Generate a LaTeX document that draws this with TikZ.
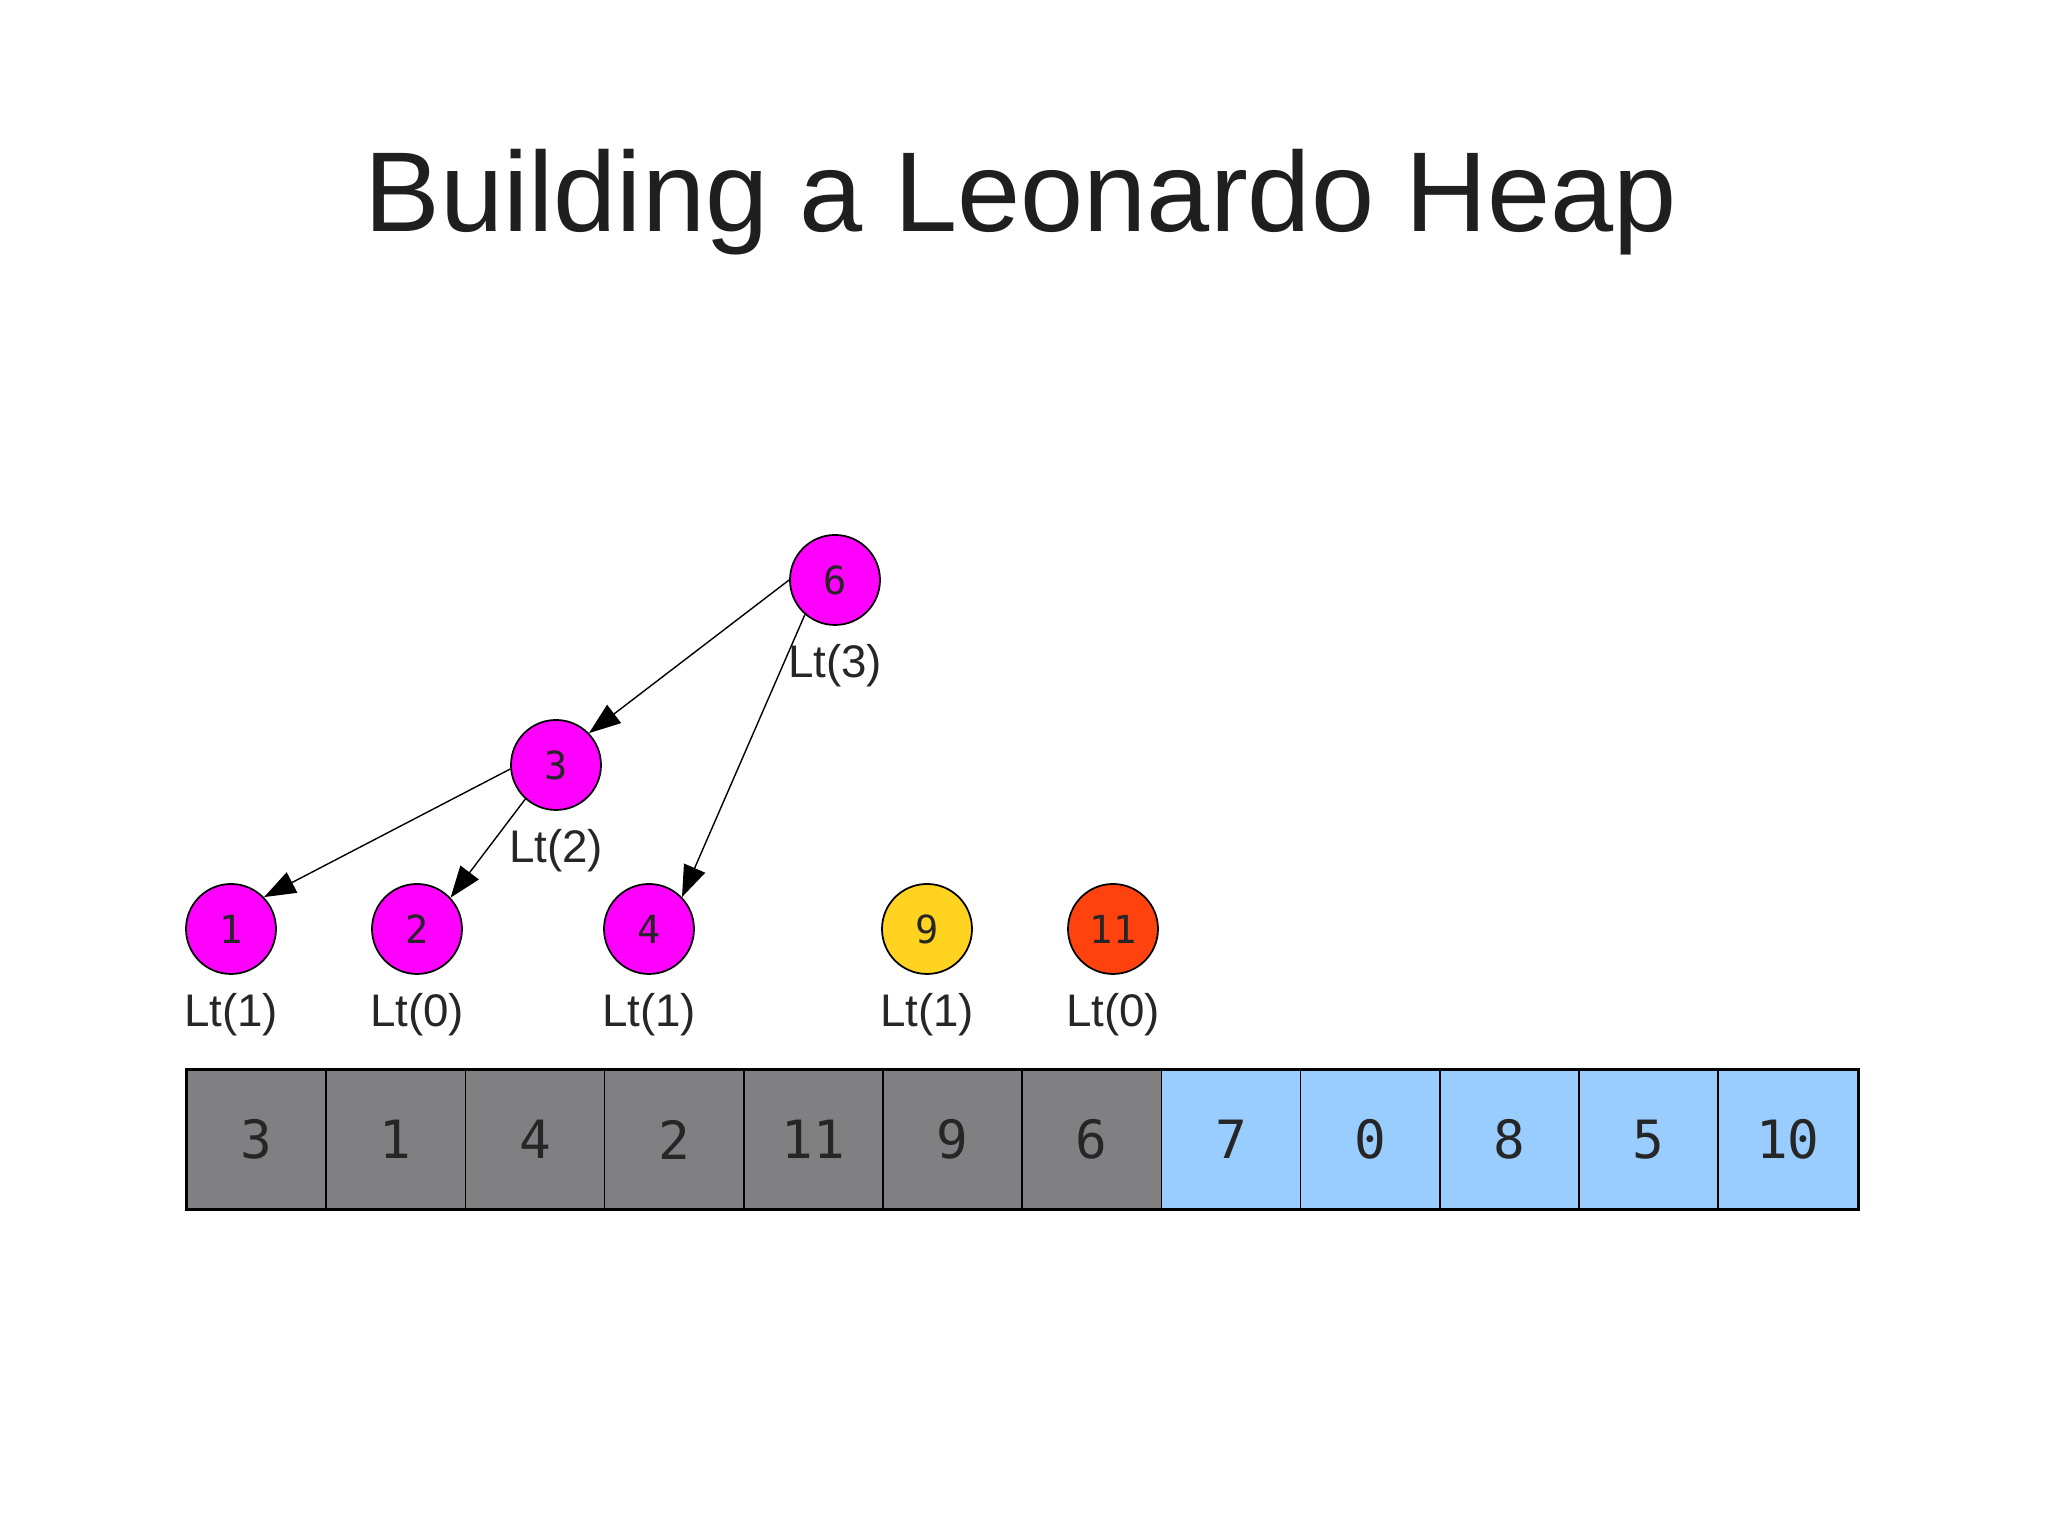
\documentclass[tikz,border=0pt]{standalone}
\usepackage{fontspec}
\setmainfont{Liberation Sans}
\newfontfamily\cellfont{DejaVu Sans Mono}
\usetikzlibrary{arrows.meta}

\definecolor{heapmag}{HTML}{FF00FF}
\definecolor{heapyel}{HTML}{FFD320}
\definecolor{heapred}{HTML}{FF420E}
\definecolor{cellgray}{HTML}{807F82}
\definecolor{cellblue}{HTML}{99CCFF}

\tikzset{
  treenode/.style={circle, draw=black, line width=0.5pt, minimum size=0.9cm, inner sep=0pt,
    font=\cellfont\fontsize{11}{11}\selectfont, text=black!85},
  ltlabel/.style={font=\fontsize{13}{14}\selectfont, text=black!85, inner sep=0pt},
  heapedge/.style={-{Triangle[length=9pt,width=6.5pt]}, line width=0.4pt},
  cell/.style={draw=black, line width=0.5pt, minimum size=1.392cm, inner sep=0pt,
    font=\cellfont\fontsize{15}{15}\selectfont, text=black!85}
}

\begin{document}
\begin{tikzpicture}
    % Page
    \fill[white] (0,0) rectangle (20.48,15.36);

    % Title
    \node[anchor=base, font=\fontsize{32.3}{36}\selectfont, text=black!88] (title) at (10.21,13.04) {Building a Leonardo Heap};

    % Tree Lt(3)
    \node[treenode, fill=heapmag] (n6) at (8.35,9.56) {6};
    \node[treenode, fill=heapmag] (n3) at (5.56,7.71) {3};
    \node[treenode, fill=heapmag] (n1) at (2.31,6.07) {1};
    \node[treenode, fill=heapmag] (n2) at (4.17,6.07) {2};
    \node[treenode, fill=heapmag] (n4) at (6.49,6.07) {4};

    % Trees Lt(1) and Lt(0)
    \node[treenode, fill=heapyel] (n9) at (9.27,6.07) {9};
    \node[treenode, fill=heapred] (n11) at (11.13,6.07) {11};

    % Orders
    \node[ltlabel] (l6) at (8.35,8.70) {Lt(3)};
    \node[ltlabel] (l3) at (5.56,6.85) {Lt(2)};
    \node[ltlabel] (l1) at (2.31,5.21) {Lt(1)};
    \node[ltlabel] (l2) at (4.17,5.21) {Lt(0)};
    \node[ltlabel] (l4) at (6.49,5.21) {Lt(1)};
    \node[ltlabel] (l9) at (9.27,5.21) {Lt(1)};
    \node[ltlabel] (l11) at (11.13,5.21) {Lt(0)};

    % Children
    \draw[heapedge] (n6.180) -- (n3.44);
    \draw[heapedge] (n6.229) -- (n4.44);
    \draw[heapedge] (n3.185) -- (n1.44);
    \draw[heapedge] (n3.228) -- (n2.43);

    % Array: heap part, then unsorted part
    \foreach \v [count=\i from 0] in {3,1,4,2,11,9,6}
        \node[cell, fill=cellgray] (c\i) at ({2.566+1.392*\i},3.965) {\v};
    \foreach \v [count=\i from 7] in {7,0,8,5,10}
        \node[cell, fill=cellblue] (c\i) at ({2.566+1.392*\i},3.965) {\v};
    \draw[line width=0.8pt] (c0.north west) rectangle (c11.south east);

\end{tikzpicture}
\end{document}
